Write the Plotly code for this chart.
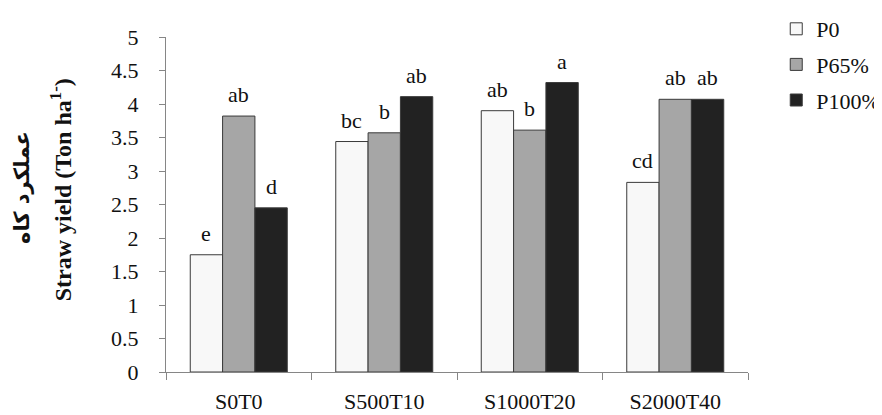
import plotly.graph_objects as go

categories = ["S0T0", "S500T10", "S1000T20", "S2000T40"]
series_names = ["P0", "P65%", "P100%"]
p0 = [1.75, 3.44, 3.90, 2.83]
p65 = [3.82, 3.57, 3.61, 4.07]
p100 = [2.45, 4.11, 4.32, 4.07]
letters_p0 = ["e", "bc", "ab", "cd"]
letters_p65 = ["ab", "b", "b", "ab"]
letters_p100 = ["d", "ab", "a", "ab"]
colors = ["#f8f8f8", "#a6a6a6", "#222222"]
title_fa = "عملکرد کاه"
title_en = "Straw yield (Ton ha<sup>1-</sup>)"

values = [p0, p65, p100]
letters = [letters_p0, letters_p65, letters_p100]

FONT = "Liberation Serif, Times New Roman, serif"
bargap = 1 / 3

fig = go.Figure()
for i, (name, vals, col) in enumerate(zip(series_names, values, colors)):
    fig.add_trace(go.Bar(
        x=categories, y=vals, name=name, legendgroup=name,
        marker=dict(color=col, line=dict(color="#3a3a3a", width=1)),
    ))

bar_w = (1 - bargap) / 3
annotations = []
for i, (vals, labs) in enumerate(zip(values, letters)):
    off = (i - 1) * bar_w
    for j, (v, t) in enumerate(zip(vals, labs)):
        annotations.append(dict(
            x=j + off, y=v, xref="x", yref="y", text=t, showarrow=False,
            yanchor="bottom", yshift=7, font=dict(family=FONT, size=22, color="#111"),
        ))

# rotated two-line axis title
annotations.append(dict(
    x=-0.247, y=0.55, xref="paper", yref="paper", text="<b>" + title_fa + "</b>",
    showarrow=False, textangle=-90, xanchor="center", yanchor="middle",
    font=dict(family="DejaVu Sans", size=21, color="#111"),
))
annotations.append(dict(
    x=-0.18, y=0.543, xref="paper", yref="paper", text="<b>" + title_en + "</b>",
    showarrow=False, textangle=-90, xanchor="center", yanchor="middle",
    font=dict(family=FONT, size=24, color="#111"),
))

fig.update_layout(
    width=874, height=407,
    margin=dict(l=158, r=134, t=29, b=43, autoexpand=False),
    plot_bgcolor="white", paper_bgcolor="white",
    barmode="group", bargap=bargap, bargroupgap=0,
    font=dict(family=FONT, size=21, color="#111"),
    annotations=annotations,
    showlegend=True,
    legend=dict(xref="container", yref="container", x=0.879, y=1.0,
                xanchor="left", yanchor="top",
                font=dict(family=FONT, size=22, color="#111"),
                tracegroupgap=4, bgcolor="rgba(0,0,0,0)"),
    xaxis=dict(
        type="category", range=[-0.5, 3.5],
        showline=True, linecolor="#868686", linewidth=1,
        ticks="outside", tickson="boundaries", ticklen=7, tickcolor="#868686",
        tickfont=dict(family=FONT, size=22, color="#111"),
        ticklabelstandoff=10, showgrid=False,
    ),
    yaxis=dict(
        range=[0, 5], dtick=0.5, tick0=0,
        showline=True, linecolor="#868686", linewidth=1,
        ticks="outside", ticklen=6, tickcolor="#868686",
        tickfont=dict(family=FONT, size=22, color="#111"),
        ticklabelstandoff=16, showgrid=False, zeroline=False,
    ),
)

fig.write_html("out.html")
